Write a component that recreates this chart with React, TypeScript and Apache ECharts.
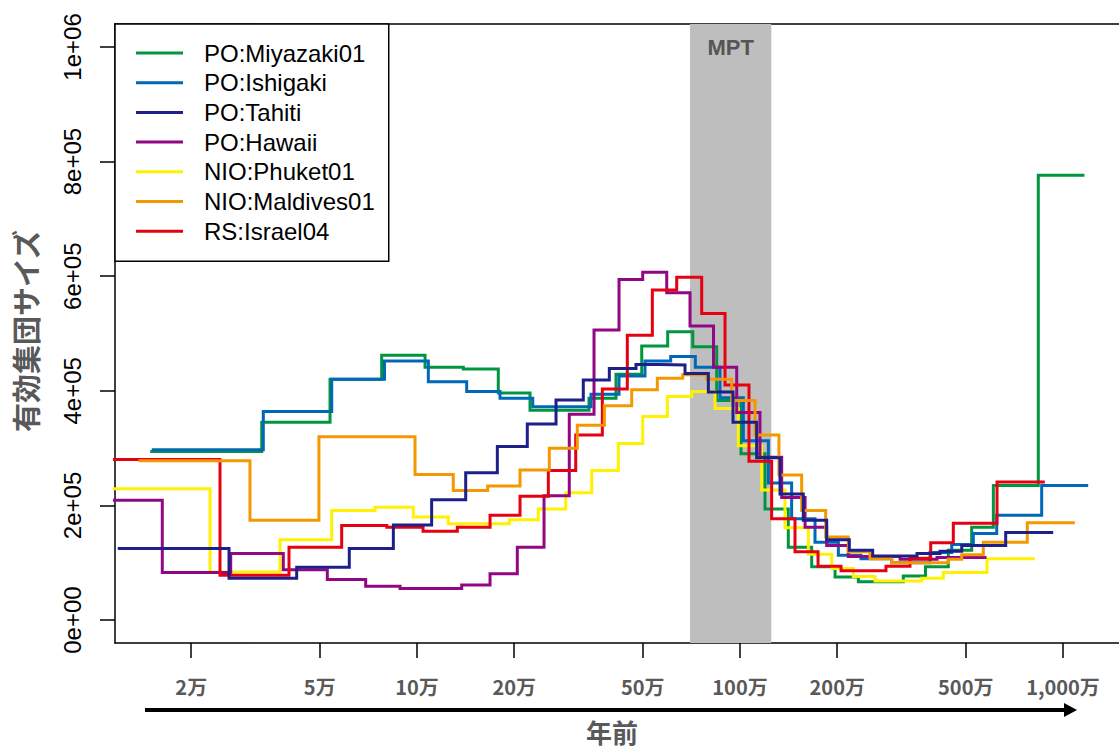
import React, { useEffect, useRef } from "react";
import * as echarts from "echarts";

// ---- series names & colours ----
const seriesNames = [
  "PO:Miyazaki01",
  "PO:Ishigaki",
  "PO:Tahiti",
  "PO:Hawaii",
  "NIO:Phuket01",
  "NIO:Maldives01",
  "RS:Israel04",
];
const seriesColors = ["#00953f", "#0068b7", "#1d2088", "#920783", "#fff100", "#f39800", "#e60012"];

// ---- step data: times (years ago, step boundaries, last = end) and effective population sizes ----
const miyazakiTimes = [15090, 33060, 53790, 77740, 105900, 139100, 178500, 223800, 340800, 413100, 496300, 597200, 714100, 847000, 1007000, 1195000, 1411000, 1667000, 1969000, 2325000, 3203000, 3753000, 4415000, 5215000, 6086000, 8385000, 11530000];
const miyazakiSizes = [294000, 345000, 420000, 462000, 441000, 438000, 396000, 366000, 387000, 429000, 478000, 503000, 477000, 383000, 290000, 194000, 127000, 93000, 75000, 67000, 77000, 93000, 122000, 162000, 235000, 776000];

const ishigakiTimes = [15260, 33430, 54440, 79300, 108400, 142500, 180700, 228200, 345700, 422100, 508000, 610100, 727200, 867200, 1024000, 1224000, 1445000, 1707000, 2016000, 2369000, 2949000, 3875000, 4523000, 5276000, 6234000, 8590000, 11840000];
const ishigakiSizes = [297000, 364000, 420000, 452000, 416000, 399000, 387000, 372000, 394000, 426000, 452000, 460000, 441000, 388000, 313000, 239000, 177000, 136000, 113000, 107000, 100000, 118000, 132000, 151000, 183000, 235000];

const tahitiTimes = [11970, 26180, 42410, 61710, 84480, 111000, 141500, 177300, 219500, 269400, 327200, 393900, 476400, 565300, 675700, 797900, 951300, 1126000, 1330000, 1570000, 1855000, 2180000, 2575000, 3532000, 4162000, 4858000, 6646000, 9226000];
const tahitiSizes = [125000, 73000, 92000, 125000, 166000, 210000, 257000, 303000, 342000, 384000, 419000, 439000, 446000, 445000, 430000, 398000, 345000, 283000, 220000, 174000, 140000, 122000, 112000, 116000, 120000, 130000, 153000];

const hawaiiTimes = [10000, 16270, 26500, 38550, 52760, 69360, 88600, 137500, 168300, 204400, 247300, 296100, 353200, 422100, 499800, 593100, 700200, 827900, 976800, 1153000, 1346000, 1590000, 1855000, 2164000, 3130000, 4074000, 5736000];
const hawaiiSizes = [209000, 83000, 116000, 88000, 71000, 59000, 55000, 61000, 81000, 127000, 217000, 359000, 506000, 594000, 607000, 571000, 513000, 441000, 362000, 284000, 214000, 162000, 130000, 111000, 106000, 109000];

const phuketTimes = [10000, 22870, 37650, 54440, 74100, 97400, 125000, 193100, 237400, 288700, 347500, 420000, 499800, 595700, 708900, 836800, 987900, 1167000, 1378000, 1628000, 1923000, 2243000, 2618000, 3651000, 4261000, 5817000, 8090000];
const phuketSizes = [229000, 84000, 140000, 191000, 197000, 180000, 168000, 175000, 194000, 222000, 261000, 308000, 355000, 390000, 399000, 369000, 304000, 227000, 161000, 115000, 90000, 76000, 68000, 73000, 83000, 107000];

const maldivesTimes = [13880, 30400, 49700, 98600, 129500, 165500, 208400, 256800, 313500, 380200, 462100, 554600, 664600, 788800, 942600, 1113000, 1320000, 1552000, 1842000, 2164000, 2526000, 2949000, 4415000, 4858000, 5666000, 7752000, 10760000];
const maldivesSizes = [278000, 174000, 320000, 254000, 226000, 234000, 262000, 300000, 340000, 374000, 402000, 422000, 428000, 420000, 383000, 323000, 253000, 191000, 145000, 119000, 107000, 100000, 106000, 114000, 136000, 170000];

const israelTimes = [10000, 24550, 40150, 58450, 80600, 104400, 133300, 168300, 208400, 255000, 310000, 374800, 447800, 535300, 636800, 761000, 898700, 1066000, 1253000, 1480000, 1744000, 2055000, 2831000, 3360000, 3894000, 4575000, 6248000, 8690000];
const israelSizes = [280000, 78000, 127000, 165000, 162000, 155000, 162000, 183000, 216000, 261000, 323000, 403000, 497000, 576000, 598000, 535000, 410000, 277000, 177000, 119000, 94000, 86000, 94000, 108000, 135000, 169000, 241000];

// ---- axes ----
const xTickYears = [20000, 50000, 100000, 200000, 500000, 1000000, 2000000, 5000000, 10000000];
const xTickLabels = ["2万", "5万", "10万", "20万", "50万", "100万", "200万", "500万", "1,000万"];
const xMinYears = 11614;
const xMaxYears = 14906000;
const yTickValues = [0, 200000, 400000, 600000, 800000, 1000000];
const yMin = -40000;
const yMax = 1040000;
const mptStart = 700000;
const mptEnd = 1250000;
const mptLabel = "MPT";
const xTitle = "年前";
const yTitle = "有効集団サイズ";

const allTimes = [miyazakiTimes, ishigakiTimes, tahitiTimes, hawaiiTimes, phuketTimes, maldivesTimes, israelTimes];
const allSizes = [miyazakiSizes, ishigakiSizes, tahitiSizes, hawaiiSizes, phuketSizes, maldivesSizes, israelSizes];
// drawing order (later = on top)
const drawOrder = [0, 1, 4, 3, 6, 5, 2];

function stepData(times: number[], sizes: number[]) {
  const pts: number[][] = [];
  for (let i = 0; i < sizes.length; i++) pts.push([Math.log10(times[i]), sizes[i]]);
  pts.push([Math.log10(times[times.length - 1]), sizes[sizes.length - 1]]);
  return pts;
}

function sciLabel(v: number) {
  if (v === 0) return "0e+00";
  const e = Math.floor(Math.log10(v) + 1e-9);
  const m = Math.round(v / Math.pow(10, e));
  return `${m}e+${String(e).padStart(2, "0")}`;
}

export default function App() {
  const ref = useRef<HTMLDivElement>(null);
  useEffect(() => {
    if (!ref.current) return;
    const chart = echarts.init(ref.current, undefined, { renderer: "svg" });
    const xMin = Math.log10(xMinYears);
    const xMax = Math.log10(xMaxYears);
    const series: any[] = drawOrder.map((idx, k) => {
      const s: any = {
        name: seriesNames[idx],
        type: "line",
        step: "end",
        symbol: "none",
        showSymbol: false,
        clip: true,
        color: seriesColors[idx],
        lineStyle: { width: 3, color: seriesColors[idx], cap: "square", join: "miter" },
        data: stepData(allTimes[idx], allSizes[idx]),
        z: 2 + k,
      };
      if (k === 0) {
        s.markArea = {
          silent: true,
          z: 1,
          itemStyle: { color: "#bebebe", opacity: 1 },
          label: {
            show: true,
            position: "insideTop",
            distance: 12,
            color: "#555555",
            fontWeight: "bold",
            fontSize: 22,
            fontFamily: "Liberation Sans",
          },
          data: [[{ name: mptLabel, xAxis: Math.log10(mptStart) }, { xAxis: Math.log10(mptEnd) }]],
        };
      }
      return s;
    });

    chart.setOption({
      animation: false,
      backgroundColor: "#ffffff",
      grid: { left: 115, top: 24, right: 0, bottom: 109, containLabel: false, show: false },
      legend: {
        data: seriesNames,
        orient: "vertical",
        left: 115,
        top: 24,
        icon: "rect",
        itemWidth: 47,
        itemHeight: 3,
        itemGap: 5.7,
        padding: [17, 14, 18, 21],
        backgroundColor: "#ffffff",
        borderColor: "#000000",
        borderWidth: 1.5,
        borderRadius: 0,
        textStyle: {
          fontSize: 24,
          fontFamily: "Liberation Sans",
          color: "#000000",
          padding: [0, 0, 0, 16],
        },
        z: 20,
      },
      xAxis: [
        {
          type: "value",
          position: "bottom",
          min: xMin,
          max: xMax,
          axisLine: { show: true, onZero: false, lineStyle: { color: "#000", width: 1.5 } },
          axisTick: {
            show: true,
            length: 15,
            customValues: xTickYears.map((t) => Math.log10(t)),
            lineStyle: { color: "#000", width: 1.5 },
          },
          axisLabel: {
            show: true,
            margin: 33,
            customValues: xTickYears.map((t) => Math.log10(t)),
            formatter: (v: number) => {
              const i = xTickYears.findIndex((t) => Math.abs(Math.log10(t) - v) < 1e-6);
              return i >= 0 ? xTickLabels[i] : "";
            },
            fontSize: 20,
            fontWeight: "bold",
            fontFamily: "Noto Sans CJK JP",
            color: "#595959",
          },
          splitLine: { show: false },
        },
        {
          type: "value",
          position: "top",
          min: xMin,
          max: xMax,
          axisLine: { show: true, onZero: false, lineStyle: { color: "#000", width: 1.5 } },
          axisTick: { show: false },
          axisLabel: { show: false },
          splitLine: { show: false },
        },
      ],
      yAxis: {
        type: "value",
        min: yMin,
        max: yMax,
        axisLine: { show: true, onZero: false, lineStyle: { color: "#000", width: 1.5 } },
        axisTick: {
          show: true,
          length: 15,
          customValues: yTickValues,
          lineStyle: { color: "#000", width: 1.5 },
        },
        axisLabel: {
          show: true,
          rotate: 90,
          margin: 31,
          customValues: yTickValues,
          formatter: (v: number) => sciLabel(v),
          fontSize: 24,
          fontFamily: "Liberation Sans",
          color: "#000",
        },
        splitLine: { show: false },
      },
      series,
      graphic: [
        {
          type: "line",
          shape: { x1: 145, y1: 710, x2: 1066, y2: 710 },
          style: { stroke: "#000", lineWidth: 4 },
        },
        {
          type: "polygon",
          shape: { points: [[1064, 703], [1077, 710], [1064, 717]] },
          style: { fill: "#000" },
        },
        {
          type: "text",
          x: 612,
          y: 731,
          style: {
            text: xTitle,
            fontSize: 26,
            fontWeight: "bold",
            fontFamily: "Noto Sans CJK JP",
            fill: "#595959",
            align: "center",
            verticalAlign: "middle",
          },
        },
        {
          type: "text",
          x: 25,
          y: 331,
          rotation: Math.PI / 2,
          style: {
            text: yTitle,
            fontSize: 29,
            fontWeight: "bold",
            fontFamily: "Noto Sans CJK JP",
            fill: "#595959",
            align: "center",
            verticalAlign: "middle",
          },
        },
      ],
    });
    return () => chart.dispose();
  }, []);
  return (
    <div
      ref={ref}
      style={{ position: "absolute", left: 0, top: 0, width: 1119, height: 752, background: "#fff" }}
    />
  );
}
